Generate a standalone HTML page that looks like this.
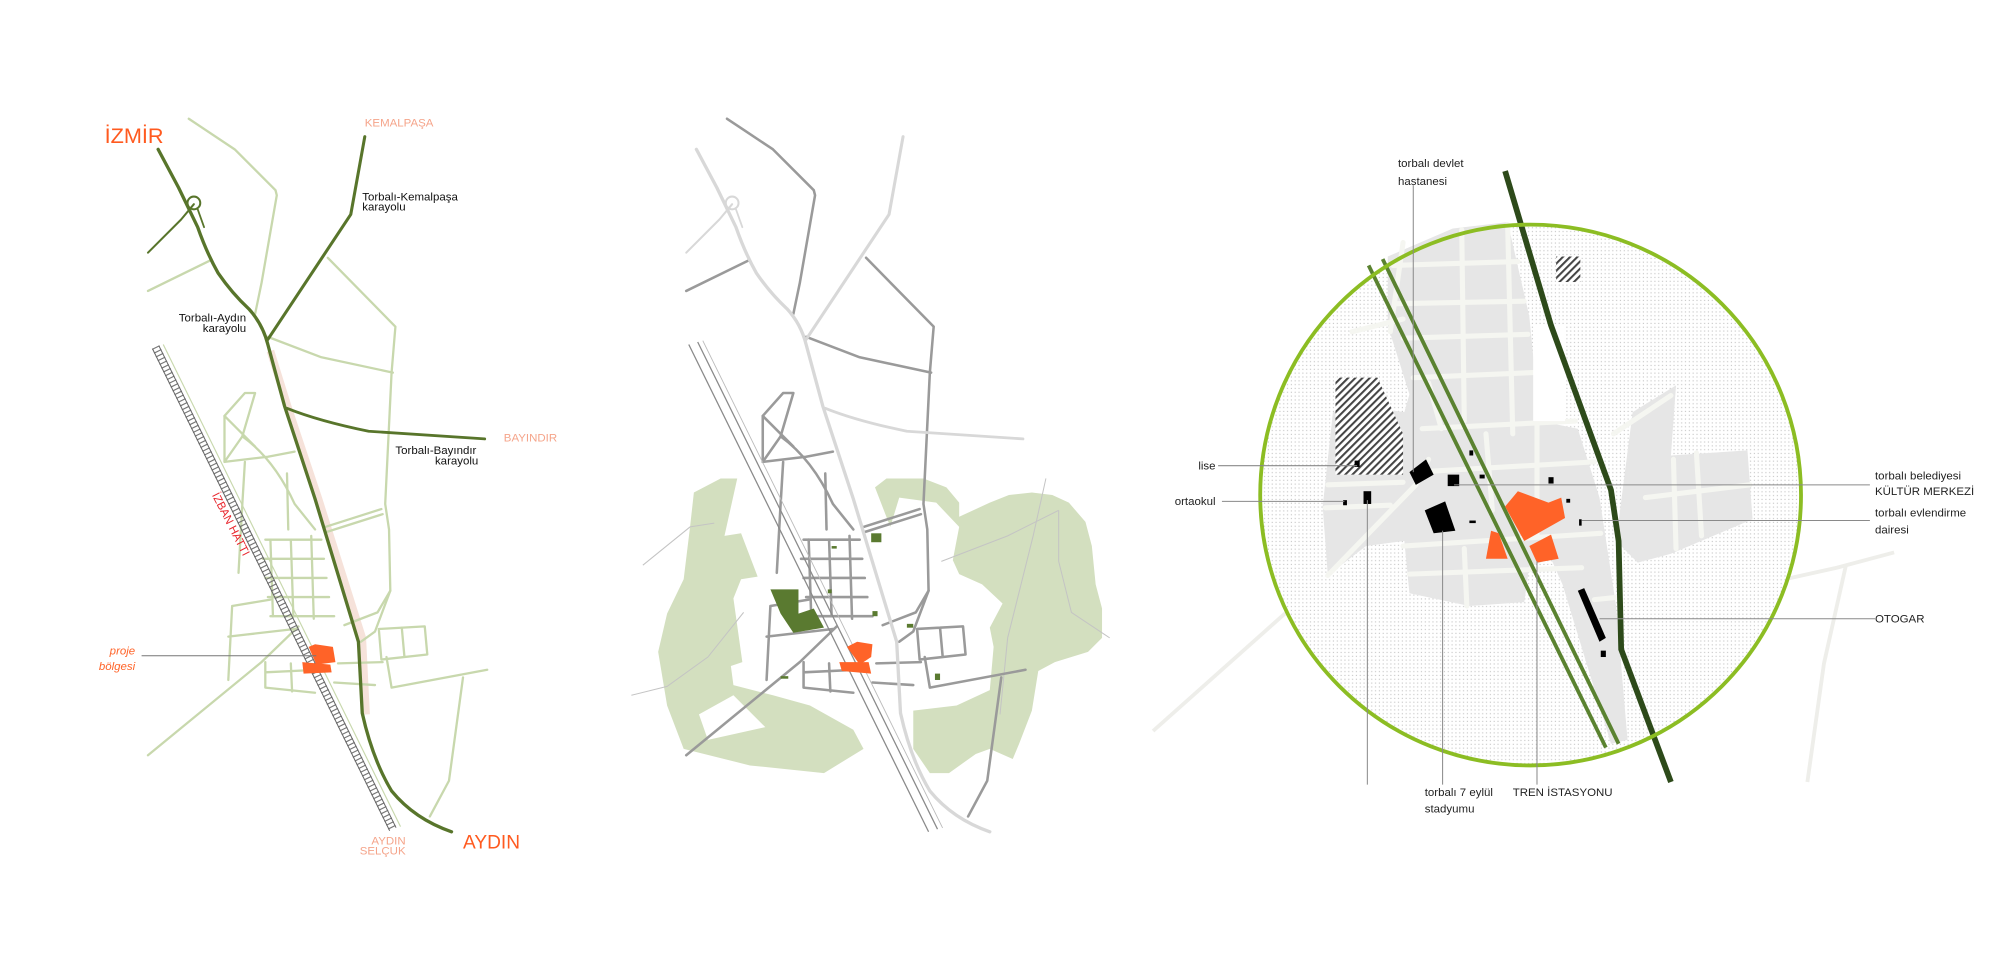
<!DOCTYPE html>
<html><head><meta charset="utf-8"><style>
html,body{margin:0;padding:0;background:#fff}
svg{display:block}
text{font-family:"Liberation Sans",sans-serif}
</style></head><body>
<svg width="2000" height="962" viewBox="0 0 1568 754" xmlns="http://www.w3.org/2000/svg">
<defs>
<pattern id="dots" width="3" height="3" patternUnits="userSpaceOnUse"><rect width="3" height="3" fill="#fff"/><rect x="1" y="1" width="0.9" height="0.9" fill="#c8c8c8"/></pattern>
<pattern id="hatch" width="4" height="4" patternUnits="userSpaceOnUse" patternTransform="rotate(45)"><rect width="4" height="4" fill="#fff"/><rect width="1.6" height="4" fill="#444"/></pattern>
<g id="minor" fill="none" stroke-linejoin="round" stroke-linecap="round">
<path d="M148,93 L184,117 L216,149 L217,153 L205,222 L200,246"/>
<path d="M116,228 L165,204"/>
<path d="M257,202 L310,256 L307,292 L302,395 L305,415 L306,463 L294,495 L283,503"/>
<path d="M210,264 L252,280 L308,292"/>
<path d="M299,399 L255,413"/><path d="M300,403 L256,417"/>
<path d="M176,326 L192,308 L200,308 L190,342 L176,362 Z"/>
<path d="M176,362 L210,358 L231,354"/>
<path d="M190,342 Q215,360 231,395 L247,415"/>
<path d="M192,362 L190,395 L187,449"/>
<path d="M225,371 L226,415"/>
<path d="M176,326 L200,350"/>
<path d="M208,423 L252,423 M206,438 L254,438 M208,453 L256,453 M210,468 L258,468 M212,483 L262,483"/>
<path d="M212,423 L214,483 M228,423 L230,483 M244,420 L246,485"/>
<path d="M182,475 L179,533 M179,499 L231,493 M182,475 L212,470"/>
<path d="M116,592 L205,519 L234,491"/>
<path d="M297,493 L333,491 L335,513 L299,517 Z M315,492 L317,514"/>
<path d="M382,525 L307,539 L303,515"/>
<path d="M363,531 L352,612 L337,640"/>
<path d="M208,519 L208,539 L247,543 M228,520 L229,542 M208,527 L250,525"/>
<path d="M265,520 L300,519 M262,535 L294,537"/>
<path d="M270,490 L296,480 L306,463"/>
</g>
<g id="hw" fill="none" stroke-linejoin="round" stroke-linecap="round">
<path d="M124,117 L140,147 L155,178 Q162,198 171,214 Q182,230 195,242 Q206,254 210,270 L223,318 L247,391 L281,503 L284,559 Q292,595 307,620 Q325,642 354,652" stroke-width="2.6"/>
<path d="M286,107 L275,168 L210,266" stroke-width="2.4"/>
<path d="M225,320 Q250,330 289,338 L380,344" stroke-width="2.2"/>
<path d="M116,198 L142,172 L152,160" stroke-width="1.6"/>
<circle cx="152" cy="159" r="5" stroke-width="1.6"/>
<path d="M155,164 L160,178" stroke-width="1.4"/>
</g>
</defs>

<!-- ============ LEFT MAP ============ -->
<path d="M212,275 L226,320 L250,392 L284,500 L287,560" stroke="#f6e2da" stroke-width="6" fill="none"/>
<use href="#minor" stroke="#c8d8ad" stroke-width="1.8"/>
<use href="#hw" stroke="#58752b"/>
<g>
<line x1="122" y1="272" x2="308" y2="650" stroke="#777" stroke-width="6.5" stroke-dasharray="0.9 2.4"/>
<line x1="119.5" y1="273.2" x2="305.5" y2="651.2" stroke="#666" stroke-width="0.8"/>
<line x1="124.5" y1="270.8" x2="310.5" y2="648.8" stroke="#666" stroke-width="0.8"/>
<line x1="128" y1="270" x2="314" y2="648" stroke="#c8d8ad" stroke-width="0.9"/>
</g>
<text x="0" y="0" transform="translate(166,388) rotate(63)" font-size="9" fill="#e8242b">İZBAN HATTI</text>
<polygon points="242,507 247,505 261,507 263,519 248,521" fill="#ff6328"/>
<polygon points="237,519 259,521 260,527 238,528" fill="#ff6328"/>
<line x1="111" y1="514" x2="248" y2="514" stroke="#777" stroke-width="0.8"/>
<text x="106" y="513" font-size="9" fill="#ff6328" font-style="italic" text-anchor="end">proje</text>
<text x="106" y="525" font-size="9" fill="#ff6328" font-style="italic" text-anchor="end">bölgesi</text>
<text x="82" y="112" font-size="17" fill="#ff5a1f">İZMİR</text>
<text x="286" y="99" font-size="9" fill="#f5a48a">KEMALPAŞA</text>
<text x="284" y="157" font-size="9" fill="#111">Torbalı-Kemalpaşa</text>
<text x="284" y="165" font-size="9" fill="#111">karayolu</text>
<text x="193" y="252" font-size="9" fill="#111" text-anchor="end">Torbalı-Aydın</text>
<text x="193" y="260" font-size="9" fill="#111" text-anchor="end">karayolu</text>
<text x="395" y="346" font-size="9" fill="#f5a48a">BAYINDIR</text>
<text x="310" y="356" font-size="9" fill="#111">Torbalı-Bayındır</text>
<text x="375" y="364" font-size="9" fill="#111" text-anchor="end">karayolu</text>
<text x="318" y="662" font-size="9" fill="#f5a48a" text-anchor="end">AYDIN</text>
<text x="318" y="670" font-size="9" fill="#f5a48a" text-anchor="end">SELÇUK</text>
<text x="363" y="665" font-size="15" fill="#ff5a1f">AYDIN</text>

<!-- ============ MIDDLE MAP ============ -->
<g fill="#d3dfbf">
<polygon points="544,386 565,375 578,375 568,420 581,418 594,452 581,454 575,469 582,519 573,522 575,537 606,545 635,553 669,572 677,587 646,606 588,600 536,587 523,553 516,511 523,481 536,454 541,413"/>
<polygon points="686,382 695,375 724,375 742,382 752,394 752,405 776,394 791,388 809,386 825,388 838,394 851,409 856,428 859,458 864,477 864,500 853,511 827,519 814,526 809,557 799,583 794,595 776,587 765,591 744,606 729,606 716,587 716,557 750,553 776,541 779,507 776,492 786,473 770,458 752,450 747,439 752,413 734,394 705,390 698,413"/>
</g>
<polygon points="548,560 575,545 600,570 555,580" fill="#fff"/>
<g fill="none" stroke="#c4c4c4" stroke-width="0.8">
<path d="M504,443 L541,413 L560,410"/><path d="M495,545 L523,538 L555,515 L583,480"/>
<path d="M738,440 L790,420 L830,400"/><path d="M820,375 L810,420 L800,460 L790,500 L784,560"/>
<path d="M830,400 L830,440 L840,480 L870,500"/>
</g>
<g transform="translate(422,0)">
<use href="#minor" stroke="#9a9a9a" stroke-width="2"/>
<use href="#hw" stroke="#d8d8d8"/>
</g>
<line x1="540" y1="270" x2="728" y2="652" stroke="#8a8a8a" stroke-width="1"/>
<line x1="547" y1="268" x2="735" y2="650" stroke="#8a8a8a" stroke-width="1"/>
<line x1="551" y1="267" x2="739" y2="649" stroke="#bbb" stroke-width="0.7"/>
<g fill="#5a7a30">
<polygon points="604,462 626,462 626,481 638,477 646,492 622,496 612,481"/>
<rect x="683" y="418" width="8" height="7"/><rect x="652" y="428" width="4" height="2"/>
<rect x="684" y="479" width="4" height="4"/><rect x="733" y="528" width="4" height="5"/>
<rect x="612" y="530" width="6" height="2"/><rect x="711" y="489" width="5" height="3"/>
<rect x="649" y="462" width="3" height="3"/>
</g>
<polygon points="664,507 672,503 684,505 683,515 674,521" fill="#ff6328"/>
<polygon points="658,519 681,519 683,528 660,526" fill="#ff6328"/>

<!-- ============ RIGHT MAP ============ -->
<g fill="none" stroke="#eeeeea" stroke-width="3">
<path d="M904,573 L1041,451"/><path d="M1395,455 L1440,445 L1485,433"/><path d="M1447,444 L1430,520 L1417,613"/>
</g>
<circle cx="1200" cy="388" r="212" fill="url(#dots)"/>
<g fill="#e6e6e6">
<polygon points="1088,201 1139,179 1182,174 1199,248 1207,330 1237,336 1254,390 1267,475 1276,580 1263,583 1225,458 1216,438 1199,444 1195,472 1152,475 1105,465 1101,424 1071,428 1041,451 1037,397 1045,323 1071,319 1101,323 1105,309 1088,255"/>
<polygon points="1280,323 1314,302 1310,357 1370,353 1374,407 1310,434 1284,441 1267,424"/>
</g>
<g fill="none" stroke="#f5f6f1" stroke-width="4" stroke-linecap="round">
<path d="M1092,208 L1190,205 M1095,238 L1195,236 M1100,265 L1198,262 M1108,296 L1202,292 M1115,336 L1235,330 M1110,370 L1250,362 M1100,428 L1255,418 M1105,450 L1240,445 M1250,470 L1270,468"/>
<path d="M1146,180 L1148,330 M1182,176 L1186,340 M1120,300 L1130,336 M1165,340 L1170,400 M1205,330 L1205,420 M1148,430 L1150,475"/>
<path d="M1041,380 L1100,378 M1039,398 L1090,396 M1041,451 L1110,380 L1120,360"/>
<path d="M1290,390 L1372,380 M1312,360 L1314,430 M1330,355 L1334,420 M1265,340 L1310,310"/>
<path d="M1100,190 L1090,260 M1060,260 L1100,250"/>
</g>
<rect x="1202" y="255" width="25" height="75" fill="#fff"/>
<polygon points="1047,296 1080,296 1100,340 1100,372 1070,372 1047,372" fill="url(#hatch)"/>
<rect x="1220" y="201" width="19" height="20" fill="url(#hatch)"/>
<line x1="1073" y1="208" x2="1259" y2="586" stroke="#5a8230" stroke-width="3"/>
<line x1="1084" y1="203" x2="1269" y2="583" stroke="#5a8230" stroke-width="3"/>
<path d="M1180,134 L1216,255 L1263,384 L1269,424 L1271,509 L1310,613" fill="none" stroke="#2d4a1a" stroke-width="4.5"/>
<circle cx="1200" cy="388" r="212" fill="none" stroke="#8cbd23" stroke-width="3"/>
<polygon points="1180,397 1190,385 1214,394 1224,390 1227,406 1195,424" fill="#ff6328"/>
<polygon points="1169,416 1165,438 1182,438 1175,418" fill="#ff6328"/>
<polygon points="1199,428 1216,419 1222,438 1205,441" fill="#ff6328"/>
<g fill="#000">
<polygon points="1117,400 1133,393 1141,416 1124,418"/>
<polygon points="1105,370 1118,360 1124,372 1110,380"/>
<rect x="1135" y="372" width="9" height="9"/>
<rect x="1062" y="361" width="4" height="5"/>
<rect x="1069" y="385" width="6" height="10"/>
<rect x="1053" y="392" width="3" height="4"/>
<polygon points="1237,463 1242,461 1259,500 1254,503"/>
<rect x="1255" y="510" width="4" height="5"/>
<rect x="1214" y="374" width="4" height="5"/><rect x="1238" y="407" width="2" height="5"/>
<rect x="1152" y="353" width="3" height="4"/><rect x="1160" y="372" width="4" height="3"/>
<rect x="1152" y="408" width="5" height="2"/><rect x="1228" y="391" width="3" height="3"/>
</g>
<g stroke="#8a8a8a" stroke-width="0.8" fill="none">
<path d="M955,365 L1064,365"/><path d="M958,393 L1054,393"/>
<path d="M1108,145 L1108,370"/>
<path d="M1140,380 L1466,380"/><path d="M1240,408 L1466,408"/><path d="M1254,485 L1470,485"/>
<path d="M1072,392 L1072,615"/><path d="M1131,416 L1131,615"/><path d="M1205,440 L1205,615"/>
</g>
<g font-size="9" fill="#222">
<text x="1096" y="131">torbalı devlet</text>
<text x="1096" y="145">hastanesi</text>
<text x="953" y="368" text-anchor="end">lise</text>
<text x="953" y="396" text-anchor="end">ortaokul</text>
<text x="1470" y="376">torbalı  belediyesi</text>
<text x="1470" y="388">KÜLTÜR MERKEZİ</text>
<text x="1470" y="405">torbalı evlendirme</text>
<text x="1470" y="418">dairesi</text>
<text x="1470" y="488">OTOGAR</text>
<text x="1117" y="624">torbalı 7 eylül</text>
<text x="1117" y="637">stadyumu</text>
<text x="1186" y="624">TREN İSTASYONU</text>
</g>
</svg>
</body></html>
